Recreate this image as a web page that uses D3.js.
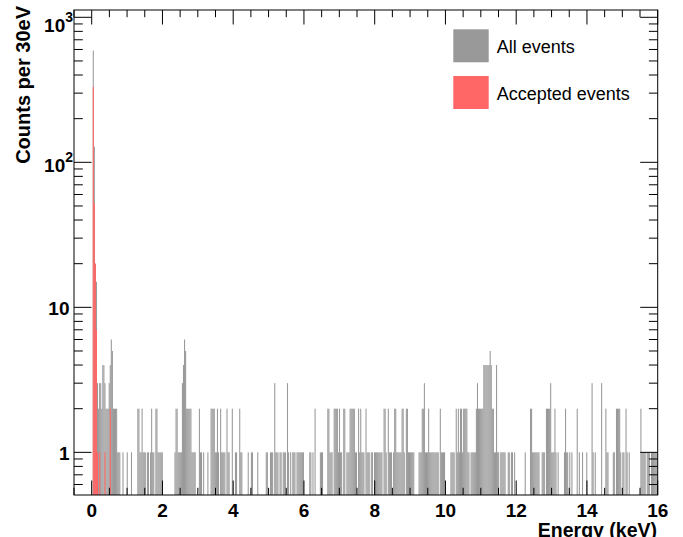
<!DOCTYPE html>
<html><head><meta charset="utf-8">
<script src="https://cdn.jsdelivr.net/npm/d3@7"></script>
<style>html,body{margin:0;padding:0;background:#fff;}svg{display:block;}</style>
</head><body>
<svg id="chart" width="683" height="537"></svg>
<script>
// ---- data ----
const binWidth = 0.03; // keV (30 eV bins starting at 0)
// [bin index, counts] for All events
const allBinCounts = [
[1,590],[2,128],[3,20],[4,15],[5,3],[6,2],[7,3],[8,3],[9,2],[10,4],[11,4],[12,3],[13,2],[14,2],[15,2],[16,3],[17,4],[18,6],[19,5],[20,2],[21,2],[22,2],[23,2],[24,1],[25,1],[26,1],[29,1],[33,1],[37,1],
[43,2],[44,2],[45,1],[46,1],[47,2],[48,1],[49,1],[50,1],[52,1],[53,1],[55,1],[56,2],[57,1],[58,1],[60,2],[61,2],[62,1],[63,1],[64,1],[65,1],[66,1],
[78,1],[79,2],[80,2],[81,1],[82,1],[83,1],[84,1],[85,3],[86,4],[87,6],[88,5],[89,2],[90,2],[91,2],[92,2],[93,2],[94,1],[95,1],[96,1],[97,1],
[101,2],[102,1],[103,1],[105,1],[109,1],[112,2],[113,2],[114,2],[115,2],[116,1],[117,1],[118,2],[119,1],[121,2],[122,1],[123,1],[124,1],[125,1],[127,2],[128,1],[129,1],[132,2],[135,1],[136,1],[139,2],[140,1],[141,1],[147,1],[150,1],[151,1],[156,1],
[164,1],[165,1],[168,1],[169,1],[170,1],[172,3],[173,1],[174,1],[175,1],[177,1],[178,1],[180,1],[181,1],[182,1],[184,3],[185,1],[187,1],[189,1],[190,1],[191,1],[193,1],[194,1],[195,1],[196,1],[197,1],[198,1],[199,1],
[205,1],[206,1],[208,1],[210,2],[215,1],[216,1],[217,1],[222,2],[223,2],[224,1],[225,1],[226,1],[228,2],[229,2],[230,2],[231,2],[232,1],[233,2],[234,1],[235,1],[237,2],[238,2],[240,1],[241,1],[242,1],[243,2],[244,2],[245,2],[246,2],[247,2],[248,1],[249,1],
[251,2],[252,1],[253,2],[254,1],[255,1],[256,1],[258,2],[259,1],[260,1],[261,1],[263,1],[264,1],[266,1],[267,1],[268,1],[269,1],[270,1],[271,1],[272,1],[273,1],[275,2],[276,2],[277,1],[279,2],[280,1],[281,1],[282,1],[284,1],[285,2],[286,2],[287,1],[288,1],[289,1],[290,1],[291,1],[292,2],[293,2],[294,1],[296,2],[297,2],[298,1],[299,1],[300,1],[301,1],[302,1],[303,1],
[308,1],[309,1],[310,1],[311,2],[312,2],[313,3],[314,1],[315,1],[316,1],[317,2],[318,1],[319,1],[320,1],[321,1],[322,1],[323,1],[324,1],[325,1],[326,1],[328,2],[329,1],[330,1],[331,1],[332,1],[338,1],[339,1],[340,1],[341,1],[343,2],[344,1],[345,2],[346,1],[347,2],[348,2],[349,1],[350,2],
[351,2],[352,2],[353,2],[354,1],[355,1],[357,1],[358,1],[359,1],[360,1],[361,1],[362,2],[363,3],[364,2],[365,2],[366,2],[367,2],[368,2],[369,4],[370,4],[371,4],[372,4],[373,4],[374,4],[375,5],[376,4],[377,2],[378,2],[379,1],[380,1],[381,4],[382,1],[383,1],[385,1],[386,1],[387,1],[388,1],[389,1],[392,1],[393,1],[395,1],[396,1],[398,1],
[408,1],[413,2],[414,2],[415,1],[416,1],[417,1],[418,1],[419,1],[420,1],[421,1],[424,1],[425,1],[426,1],[428,2],[429,2],[430,2],[431,2],[432,3],[433,1],[434,1],[435,1],[436,2],[437,1],[439,1],[445,1],[446,2],[447,1],[448,1],[450,1],[452,1],[457,2],[459,1],[462,1],[466,1],
[471,3],[472,1],[474,1],[480,3],[484,2],[485,1],[486,1],[491,1],[492,1],[494,2],[495,2],[496,2],[497,2],[498,1],[500,1],[501,1],[503,2],[504,1],[506,1],[517,2],[518,1],[519,1],[520,1],[521,1],[523,1],[524,1],[525,1],[527,1],[528,1],[529,1],[530,1],[531,1],[532,1]
];
// [bin index, counts] for Accepted events
const acceptedBinCounts = [[1,330],[2,52],[3,20],[4,7],[5,1],[7,1],[12,1],[17,2]];

const xTickValues = [0,2,4,6,8,10,12,14,16];
const yTickValues = [1,10,100,1000];
const yTickLabels = [["1",""],["10",""],["10","2"],["10","3"]];
const legendLabels = ["All events","Accepted events"];
const xTitle = "Energy (keV)";
const yTitle = "Counts per 30eV";

// ---- layout ----
const L = 74, R = 657.7, T = 10, B = 495;
const grayCol = "#999999", redCol = "#ff6666";
const svg = d3.select("#chart");
const x = d3.scaleLinear().domain([-0.5, 16]).range([L, R]);
const y = d3.scaleLog().domain([0.508, 1123]).range([B, T]);

svg.append("defs").append("clipPath").attr("id","clip")
  .append("rect").attr("x",L).attr("y",T).attr("width",R-L).attr("height",B-T);

const plot = svg.append("g").attr("clip-path","url(#clip)");
function drawHist(data, col){
  plot.append("g").selectAll("rect").data(data).join("rect")
    .attr("x", d => x(d[0]*binWidth))
    .attr("width", d => x((d[0]+1)*binWidth) - x(d[0]*binWidth))
    .attr("y", d => y(d[1]))
    .attr("height", d => B - y(d[1]))
    .attr("fill", col);
}
drawHist(allBinCounts, grayCol);
drawHist(acceptedBinCounts, redCol);

// ---- axes (ROOT style ticks inside frame, on all sides) ----
const axG = svg.append("g").attr("stroke","#000").attr("stroke-width",1).attr("fill","none");
const xMajLen = 14.5, xMinLen = 7.2, yMajLen = 17.5, yMinLen = 8.8;
const xMinor = d3.range(-0.5, 16.001, 0.5);
xMinor.forEach(v => {
  const isMaj = xTickValues.includes(v);
  const len = isMaj ? xMajLen : xMinLen;
  axG.append("line").attr("x1",x(v)).attr("x2",x(v)).attr("y1",B).attr("y2",B-len);
  axG.append("line").attr("x1",x(v)).attr("x2",x(v)).attr("y1",T).attr("y2",T+len);
});
const yMinor = [];
[0.1,1,10,100].forEach(dec => { for (let m=2;m<=9;m++){ const v=dec*m; if (v>=0.508 && v<=1123) yMinor.push(v);} });
yMinor.forEach(v => {
  axG.append("line").attr("x1",L).attr("x2",L+yMinLen).attr("y1",y(v)).attr("y2",y(v));
  axG.append("line").attr("x1",R).attr("x2",R-yMinLen).attr("y1",y(v)).attr("y2",y(v));
});
yTickValues.forEach(v => {
  axG.append("line").attr("x1",L).attr("x2",L+yMajLen).attr("y1",y(v)).attr("y2",y(v));
  axG.append("line").attr("x1",R).attr("x2",R-yMajLen).attr("y1",y(v)).attr("y2",y(v));
});
axG.append("rect").attr("x",L).attr("y",T).attr("width",R-L).attr("height",B-T);

// tick labels
const font = "'Liberation Sans', Arial, Helvetica, sans-serif";
const xl = svg.append("g").attr("font-family",font).attr("font-weight","bold").attr("font-size",19).attr("fill","#000");
xTickValues.forEach(v => {
  xl.append("text").attr("x",x(v)).attr("y",517).attr("text-anchor","middle").text(v);
});
yTickValues.forEach((v,i) => {
  const [base, sup] = yTickLabels[i];
  let dy = sup ? 9.3 : 7.7;
  if (v === 1000) dy = 14.4;
  const t = xl.append("text").attr("y", y(v)+dy).attr("text-anchor","end")
    .attr("x", sup ? 73 : 69.5);
  t.append("tspan").text(base);
  if (sup) t.append("tspan").attr("font-size",14).attr("dy",-10).text(sup);
});

// titles
xl.append("text").attr("x",657).attr("y",536.5).attr("text-anchor","end").attr("font-size",19.5).text(xTitle);
xl.append("text").attr("transform","translate(30,6) rotate(-90)").attr("text-anchor","end").attr("font-size",20).text(yTitle);

// legend
const lg = svg.append("g").attr("font-family",font).attr("font-size",18).attr("fill","#000");
[grayCol, redCol].forEach((c,i) => {
  const y0 = 29.3 + i*46.7;
  lg.append("rect").attr("x",453.3).attr("y",y0).attr("width",35.4).attr("height",33).attr("fill",c);
  lg.append("text").attr("x",496.7).attr("y",y0+24).text(legendLabels[i]);
});
</script>
</body></html>
